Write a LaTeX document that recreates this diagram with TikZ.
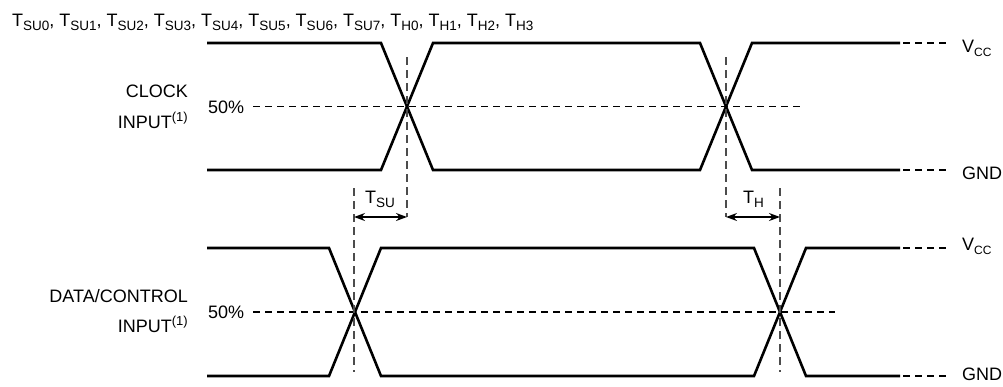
\documentclass[tikz,border=0pt]{standalone}
\usepackage{fontspec}
\setmainfont{Liberation Sans}
\usetikzlibrary{arrows.meta}
\newcommand\lsub[2][13.5]{\raisebox{-4pt}{\fontsize{#1}{14}\selectfont #2}}
\newcommand\lsup[1]{\raisebox{6.5pt}{\fontsize{13}{14}\selectfont #1}}
\begin{document}
\begin{tikzpicture}[x=1pt,y=-1pt,
  wave/.style={line width=2.6pt},
  wavedash/.style={line width=2.6pt, dash pattern=on 7pt off 5pt},
  guide/.style={line width=1.4pt, black!70, dash pattern=on 8pt off 5pt},
  half/.style={line width=1.2pt, dash pattern=on 7pt off 5pt},
  dim/.style={line width=1.4pt, {Stealth[length=11pt,width=8pt]}-{Stealth[length=11pt,width=8pt]}},
  lbl/.style={inner sep=0pt, font=\fontsize{18}{22}\selectfont},
]
\useasboundingbox (0,0) rectangle (1003,386);
% ---------- clock coordinates
\coordinate (cA0) at (207,43);  \coordinate (cA1) at (381,43);  \coordinate (cA2) at (433,170);
\coordinate (cA3) at (700,170); \coordinate (cA4) at (752,43);  \coordinate (cA5) at (900,43);
\coordinate (cB0) at (207,170); \coordinate (cB1) at (381,170); \coordinate (cB2) at (433,43);
\coordinate (cB3) at (700,43);  \coordinate (cB4) at (752,170); \coordinate (cB5) at (900,170);
\coordinate (cAd0) at (903,43);  \coordinate (cAd1) at (946,43);
\coordinate (cBd0) at (903,170); \coordinate (cBd1) at (946,170);
% ---------- data coordinates
\coordinate (dA0) at (207,248); \coordinate (dA1) at (329,248); \coordinate (dA2) at (381,376);
\coordinate (dA3) at (754,376); \coordinate (dA4) at (806,248); \coordinate (dA5) at (900,248);
\coordinate (dB0) at (207,376); \coordinate (dB1) at (329,376); \coordinate (dB2) at (381,248);
\coordinate (dB3) at (754,248); \coordinate (dB4) at (806,376); \coordinate (dB5) at (900,376);
\coordinate (dAd0) at (903,248); \coordinate (dAd1) at (946,248);
\coordinate (dBd0) at (903,376); \coordinate (dBd1) at (946,376);
% ---------- waveforms
\draw[wave] (cA0) -- (cA1) -- (cA2) -- (cA3) -- (cA4) -- (cA5);
\draw[wave] (cB0) -- (cB1) -- (cB2) -- (cB3) -- (cB4) -- (cB5);
\draw[wavedash] (cAd0) -- (cAd1);
\draw[wavedash] (cBd0) -- (cBd1);
\draw[wave] (dA0) -- (dA1) -- (dA2) -- (dA3) -- (dA4) -- (dA5);
\draw[wave] (dB0) -- (dB1) -- (dB2) -- (dB3) -- (dB4) -- (dB5);
\draw[wavedash] (dAd0) -- (dAd1);
\draw[wavedash] (dBd0) -- (dBd1);
% ---------- 50% lines
\coordinate (ch0) at (253,106.5); \coordinate (ch1) at (802,106.5);
\coordinate (dh0) at (253,312);   \coordinate (dh1) at (835,312);
\draw[half] (ch0) -- (ch1);
\draw[half] (dh0) -- (dh1);
% ---------- guides
\coordinate (g1t) at (407,57);  \coordinate (g1b) at (407,217);
\coordinate (g2t) at (726,57);  \coordinate (g2b) at (726,217);
\coordinate (g3t) at (354,188); \coordinate (g3b) at (354,372);
\coordinate (g4t) at (780,188); \coordinate (g4b) at (780,372);
\draw[guide] (g1t) -- (g1b);
\draw[guide] (g2t) -- (g2b);
\draw[guide] (g3t) -- (g3b);
\draw[guide] (g4t) -- (g4b);
% ---------- dimension arrows
\coordinate (su0) at (354,217); \coordinate (su1) at (407,217);
\coordinate (h0) at (726,217);  \coordinate (h1) at (780,217);
\draw[dim] (su0) -- (su1);
\draw[dim] (h0) -- (h1);
\node[lbl, anchor=base west] (tsu) at (365,203.5) {T\lsub{SU}};
\node[lbl, anchor=base west] (th) at (743,203.5) {T\lsub{H}};
% ---------- labels
\node[lbl, anchor=base west] (title) at (12,26.5) {T\lsub{SU0}, T\lsub{SU1}, T\lsub{SU2}, T\lsub{SU3}, T\lsub{SU4}, T\lsub{SU5}, T\lsub{SU6}, T\lsub{SU7}, T\lsub{H0}, T\lsub{H1}, T\lsub{H2}, T\lsub{H3}};
\node[lbl, anchor=base east] (clk1) at (188,97.5) {CLOCK};
\node[lbl, anchor=base east] (clk2) at (188,128) {INPUT\lsup{(1)}};
\node[lbl, anchor=base east] (dat1) at (188,302.5) {DATA/CONTROL};
\node[lbl, anchor=base east] (dat2) at (188,332) {INPUT\lsup{(1)}};
\node[lbl, anchor=base west] (p1) at (208,113) {50\%};
\node[lbl, anchor=base west] (p2) at (208,318) {50\%};
\node[lbl, anchor=base west] (v1) at (962,52) {V\lsub[12]{CC}};
\node[lbl, anchor=base west] (gnd1) at (962,179) {GND};
\node[lbl, anchor=base west] (v2) at (962,250) {V\lsub[12]{CC}};
\node[lbl, anchor=base west] (gnd2) at (962,380) {GND};
\end{tikzpicture}
\end{document}
